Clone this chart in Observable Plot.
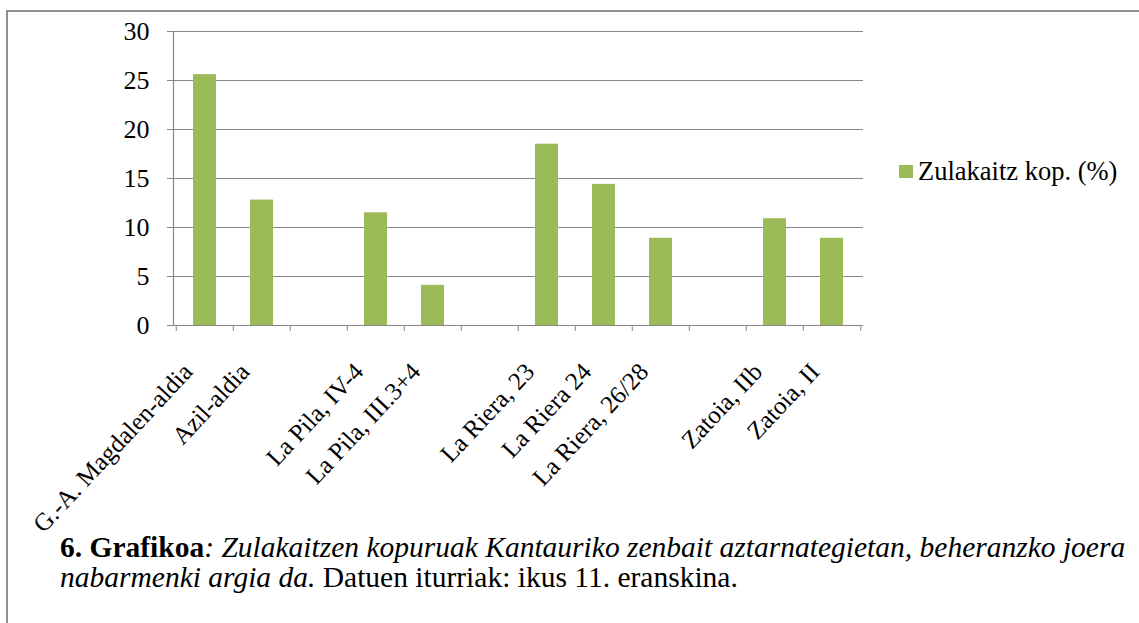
<!DOCTYPE html>
<html>
<head>
<meta charset="utf-8">
<script src="https://cdn.jsdelivr.net/npm/d3@7"></script>
<script src="https://cdn.jsdelivr.net/npm/@observablehq/plot@0.6"></script>
<style>
  html, body { margin: 0; padding: 0; background: #fff; }
  #wrap { position: relative; width: 1139px; height: 623px; overflow: hidden; font-family: "Liberation Serif", Times, "DejaVu Serif", serif; color: #000; }
  #frameTop { position: absolute; left: 6px; top: 10px; width: 1133px; height: 2px; background: #8e8e8e; }
  #frameLeft { position: absolute; left: 6px; top: 10px; width: 2px; height: 613px; background: #8e8e8e; }
  #chart { position: absolute; left: 0; top: 0; }
  #legend { position: absolute; left: 899px; top: 157px; font-size: 26.5px; line-height: 28px; white-space: nowrap; display: flex; align-items: center; }
  #legend .sw { width: 14px; height: 13px; background: #9BBB59; margin-right: 5px; display: inline-block; }
  #caption { position: absolute; left: 60px; top: 532px; font-size: 29.5px; line-height: 30px; white-space: nowrap; }
</style>
</head>
<body>
<div id="wrap">
  <div id="frameTop"></div>
  <div id="frameLeft"></div>
  <div id="chart"></div>
  <div id="legend"></div>
  <div id="caption"></div>
</div>
<script>
// ---- data ----
const categories = ["G.-A. Magdalen-aldia", "Azil-aldia", "", "La Pila, IV-4", "La Pila, III.3+4", "", "La Riera, 23", "La Riera 24", "La Riera, 26/28", "", "Zatoia, IIb", "Zatoia, II"];
const values = [25.6, 12.8, null, 11.5, 4.1, null, 18.5, 14.4, 8.9, null, 10.9, 8.9];
const yTicks = [0, 5, 10, 15, 20, 25, 30];
const seriesName = "Zulakaitz kop. (%)";
const captionBold = "6. Grafikoa";
const captionItalic1 = ": Zulakaitzen kopuruak Kantauriko zenbait aztarnategietan, beheranzko joera";
const captionItalic2 = "nabarmenki argia da.";
const captionNormal2 = " Datuen iturriak: ikus 11. eranskina.";

// ---- layout ----
const W = 900, H = 560;
const mL = 173, mR = 37, mT = 31, mB = 235;
const green = "#9BBB59", gray = "#868686";
const idx = d3.range(categories.length);
const step = (W - mL - mR) / categories.length;
const data = idx.map(i => ({i, v: values[i]})).filter(d => d.v != null);

const chart = Plot.plot({
  width: W, height: H,
  marginLeft: mL, marginRight: mR, marginTop: mT, marginBottom: mB,
  style: {fontFamily: "Liberation Serif, Times, DejaVu Serif, serif", fontSize: "25px", color: "#000", background: "transparent", overflow: "visible"},
  x: {type: "band", domain: idx, paddingInner: 0.6, paddingOuter: 0.3},
  y: {domain: [0, 30]},
  marks: [
    Plot.gridY(yTicks, {stroke: gray, strokeOpacity: 1, strokeWidth: 1.2}),
    Plot.barY(data, {x: "i", y: "v", fill: green}),
    Plot.frame({anchor: "left", stroke: gray, strokeWidth: 1.2}),
    Plot.ruleY([0], {stroke: gray, strokeWidth: 1.2}),
    Plot.axisY(yTicks, {tickSize: 6, tickPadding: 18, stroke: gray, fill: "#000", fontSize: 26, label: null}),
    Plot.axisX(idx, {tickSize: 6, dx: -step / 2, stroke: gray, fill: "none", label: null}),
    Plot.axisX([idx[idx.length - 1]], {tickSize: 6, dx: step / 2, stroke: gray, fill: "none", label: null}),
    Plot.axisX(idx, {tickSize: 0, tickPadding: 42, dx: -17, tickRotate: -47, tickFormat: i => categories[i], fill: "#000", label: null})
  ]
});
document.getElementById("chart").appendChild(chart);

const lg = document.getElementById("legend");
const sw = document.createElement("span"); sw.className = "sw"; lg.appendChild(sw);
const lt = document.createElement("span"); lt.textContent = seriesName; lg.appendChild(lt);

const cap = document.getElementById("caption");
const l1 = document.createElement("div");
const b = document.createElement("b"); b.textContent = captionBold; l1.appendChild(b);
const i1 = document.createElement("i"); i1.textContent = captionItalic1; l1.appendChild(i1);
const l2 = document.createElement("div");
const i2 = document.createElement("i"); i2.textContent = captionItalic2; l2.appendChild(i2);
l2.appendChild(document.createTextNode(captionNormal2));
cap.appendChild(l1); cap.appendChild(l2);
</script>
</body>
</html>
